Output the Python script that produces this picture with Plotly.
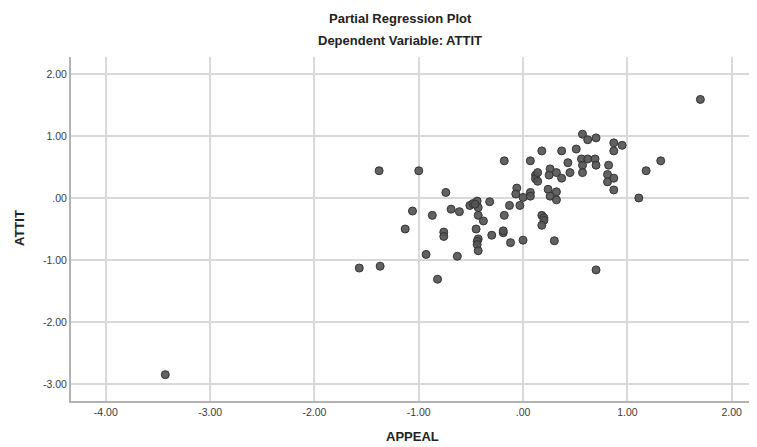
import plotly.graph_objects as go

appeal = [1.70, 1.32, 1.18, 1.11, -3.43, -1.57, -1.37, -1.38, -1.00, -1.13,
          -1.06, -0.87, -0.74, -0.69, -0.61, -0.51, -0.48, -0.44, -0.43, -0.32,
          -0.43, -0.38, -0.45, -0.43, -0.44, -0.44, -0.43, -0.76, -0.76, -0.93,
          -0.63, -0.82, -0.30, -0.19, -0.18, -0.13, -0.12, 0.00, -0.03, -0.18,
          -0.06, -0.07, 0.00, 0.07, 0.07, 0.07, 0.12, 0.12, 0.14, 0.14,
          0.24, 0.26, 0.32, 0.32, 0.26, 0.25, 0.32, 0.37, 0.45, 0.57,
          0.43, 0.56, 0.62, 0.69, 0.57, 0.70, 0.82, 0.81, 0.81, 0.87,
          0.87, 0.18, 0.37, 0.51, 0.57, 0.62, 0.70, 0.87, 0.95, 0.87,
          0.18, 0.20, 0.20, 0.18, -0.19, 0.30, 0.70, -0.46]
attit = [1.59, 0.60, 0.44, 0.00, -2.85, -1.13, -1.10, 0.44, 0.44, -0.50,
         -0.21, -0.28, 0.09, -0.18, -0.22, -0.12, -0.09, -0.05, -0.155, -0.06,
         -0.28, -0.37, -0.50, -0.66, -0.70, -0.75, -0.85, -0.55, -0.62, -0.91,
         -0.94, -1.31, -0.60, -0.56, -0.28, -0.12, -0.72, -0.68, -0.12, 0.60,
         0.16, 0.065, 0.01, 0.09, 0.03, 0.60, 0.37, 0.31, 0.41, 0.27,
         0.14, 0.03, 0.10, -0.03, 0.47, 0.37, 0.41, 0.32, 0.41, 0.41,
         0.57, 0.63, 0.63, 0.63, 0.53, 0.53, 0.53, 0.38, 0.26, 0.32,
         0.13, 0.76, 0.76, 0.79, 1.03, 0.94, 0.97, 0.89, 0.85, 0.76,
         -0.28, -0.32, -0.36, -0.44, -0.53, -0.69, -1.16, -0.10]

x_ticks = [-4, -3, -2, -1, 0, 1, 2]
x_tick_labels = ["-4.00", "-3.00", "-2.00", "-1.00", ".00", "1.00", "2.00"]
y_ticks = [-3, -2, -1, 0, 1, 2]
y_tick_labels = ["-3.00", "-2.00", "-1.00", ".00", "1.00", "2.00"]

title_main = "Partial Regression Plot"
title_sub = "Dependent Variable: ATTIT"
x_title = "APPEAL"
y_title = "ATTIT"

FONT = "Liberation Sans, Arial, sans-serif"

# page has an 8px body margin; figure coordinates = page coordinates - 8
W, H = 749, 439
L, T, B = 63, 49, 46
PW, PH = W - L, H - T - B


def px(xp):
    return (xp - 8 - L) / PW


def py(yp):
    return 1 - (yp - 8 - T) / PH


fig = go.Figure()
fig.add_trace(go.Scatter(
    x=appeal, y=attit, mode="markers",
    marker=dict(size=8, color="rgba(85,85,85,0.92)",
                line=dict(color="#333333", width=1)),
    showlegend=False, hoverinfo="skip"))

fig.update_layout(
    width=W, height=H,
    margin=dict(l=L, r=0, t=T, b=B),
    paper_bgcolor="white", plot_bgcolor="white",
    font=dict(family=FONT, size=11, color="#3a3a3a"),
    xaxis=dict(range=[-4.334, 2.243], tickvals=x_ticks, ticktext=x_tick_labels,
               showgrid=True, gridcolor="#d9d9d9", gridwidth=1.5,
               zeroline=False, showline=True, linecolor="#b3b3b3", linewidth=2,
               ticks="", tickfont=dict(size=10.5, color="#3a3a3a")),
    yaxis=dict(range=[-3.275, 2.275], tickvals=y_ticks, ticktext=y_tick_labels,
               showgrid=True, gridcolor="#d9d9d9", gridwidth=1.5,
               zeroline=False, showline=True, linecolor="#b3b3b3", linewidth=2,
               ticks="", tickfont=dict(size=10.5, color="#3a3a3a")),
    annotations=[
        dict(text="<b>" + title_main + "</b>", xref="paper", yref="paper",
             x=px(400), y=py(18), xanchor="center", yanchor="middle",
             showarrow=False, font=dict(family=FONT, size=13, color="#222222")),
        dict(text="<b>" + title_sub + "</b>", xref="paper", yref="paper",
             x=px(400), y=py(41), xanchor="center", yanchor="middle",
             showarrow=False, font=dict(family=FONT, size=13, color="#222222")),
        dict(text="<b>" + x_title + "</b>", xref="paper", yref="paper",
             x=px(412), y=py(436), xanchor="center", yanchor="middle",
             showarrow=False, font=dict(family=FONT, size=13, color="#222222")),
        dict(text="<b>" + y_title + "</b>", xref="paper", yref="paper",
             x=px(19), y=py(228), xanchor="center", yanchor="middle",
             textangle=-90, showarrow=False,
             font=dict(family=FONT, size=13, color="#222222")),
    ],
)

fig.write_html("out.html")
